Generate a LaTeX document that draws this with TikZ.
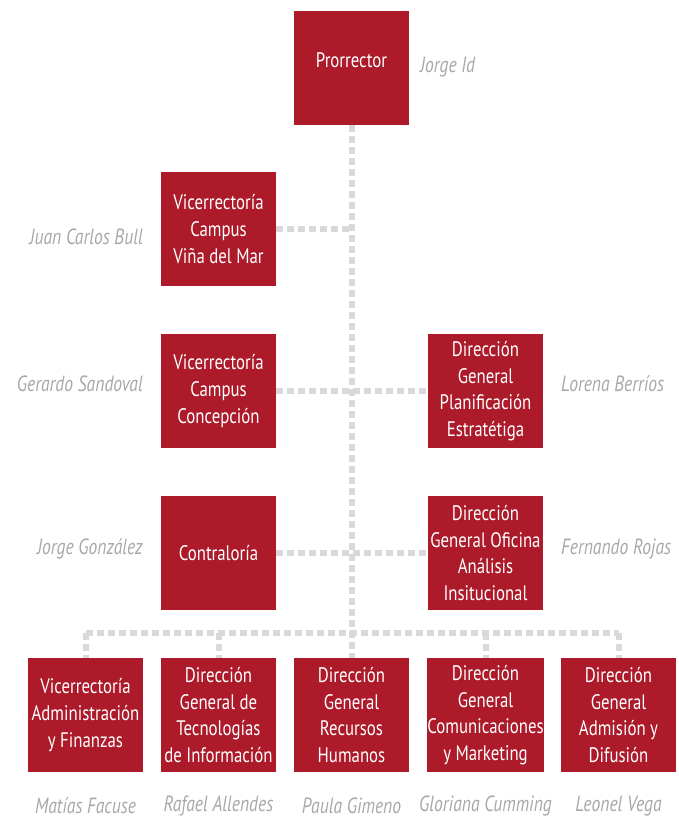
\documentclass[tikz,border=0pt]{standalone}
\usepackage{fontspec}
\setmainfont[FakeStretch=0.8]{PT Sans}
\definecolor{ucred}{HTML}{AD1A2A}
\definecolor{dotgray}{HTML}{D9D9D9}
\definecolor{namegray}{HTML}{A8A8A8}
\begin{document}
\begin{tikzpicture}[x=1pt,y=-1pt,line cap=butt,
  unit/.style={fill=ucred,text=white,minimum width=115pt,minimum height=114pt,inner sep=0pt,align=center,font=\fontsize{21}{26.6}\selectfont},
  who/.style={text=namegray,inner sep=0pt,font=\fontsize{22}{24}\selectfont\itshape},
  link/.style={draw=dotgray,line width=6pt,dash pattern=on 7pt off 4pt}]
\useasboundingbox (0,0) rectangle (679,823);
\node[unit,text depth=16pt] (pro) at (351.5,68) {Prorrector};
\node[unit] (vina) at (218.5,229) {Vicerrectoría\\Campus\\Viña del Mar};
\node[unit] (conc) at (218.5,391) {Vicerrectoría\\Campus\\Concepción};
\node[unit] (plan) at (485.5,391) {Dirección\\General\\Planificación\\Estratétiga};
\node[unit] (contra) at (218.5,553) {Contraloría};
\node[unit] (ofic) at (485.5,553) {Dirección\\General Oficina\\Análisis\\Insitucional};
\node[unit] (adm) at (85.5,715) {Vicerrectoría\\Administración\\y Finanzas};
\node[unit] (tec) at (218.5,715) {Dirección\\General de\\Tecnologías\\de Información};
\node[unit] (rrhh) at (351.5,715) {Dirección\\General\\Recursos\\Humanos};
\node[unit] (com) at (485.5,715) {Dirección\\General\\Comunicaciones\\y Marketing};
\node[unit] (dif) at (618.5,715) {Dirección\\General\\Admisión y\\Difusión};
\node[who,anchor=west] (n-pro) at (420,67) {Jorge Id};
\node[who,anchor=east] (n-vina) at (143,237) {Juan Carlos Bull};
\node[who,anchor=east] (n-conc) at (143,384) {Gerardo Sandoval};
\node[who,anchor=west] (n-plan) at (561,384) {Lorena Berríos};
\node[who,anchor=east] (n-contra) at (143,549) {Jorge González};
\node[who,anchor=west] (n-ofic) at (561,549) {Fernando Rojas};
\node[who] (n-adm) at (85.5,806) {Matías Facuse};
\node[who] (n-tec) at (218.5,806) {Rafael Allendes};
\node[who] (n-rrhh) at (351.5,806) {Paula Gimeno};
\node[who] (n-com) at (485.5,806) {Gloriana Cumming};
\node[who] (n-dif) at (618.5,806) {Leonel Vega};
\coordinate (busl) at (85.5,633);
\coordinate (busr) at (618.5,633);
\draw[link] (pro) -- (rrhh);
\draw[link] (vina.east) -- (vina.east -| pro);
\draw[link] (conc) -- (plan);
\draw[link] (contra) -- (ofic);
\draw[link] (busl) -- (busr);
\foreach \u in {adm,tec,com,dif}
  \draw[link] (\u.north |- busl) -- (\u.north);
\end{tikzpicture}
\end{document}
